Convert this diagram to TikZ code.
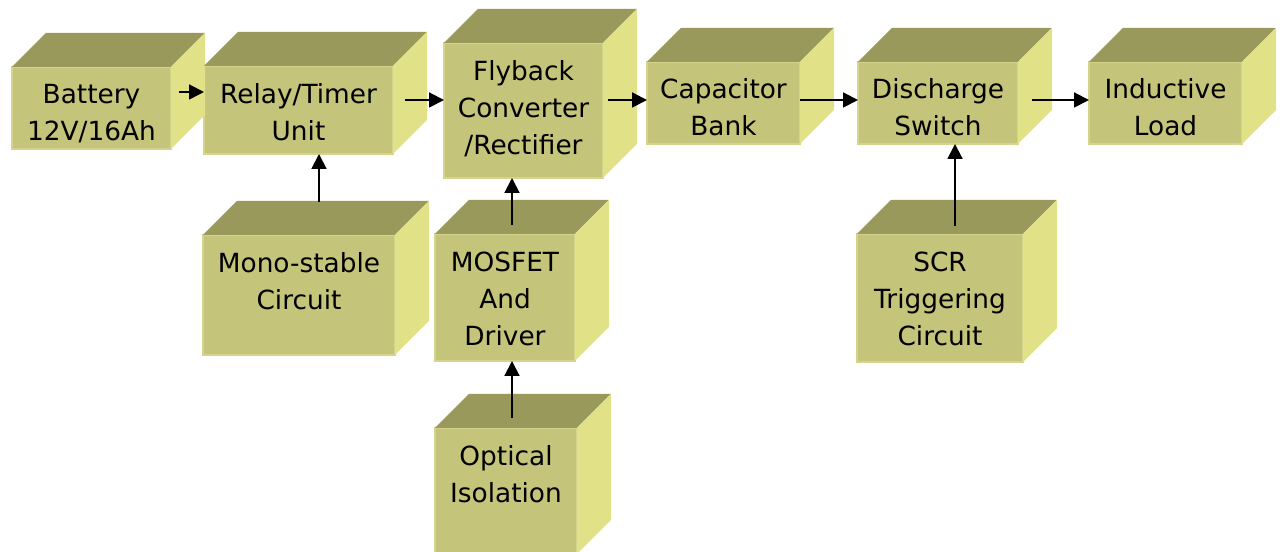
\documentclass[tikz,border=0pt]{standalone}
\usepackage{fontspec}
\setmainfont{DejaVu Sans}
\usetikzlibrary{positioning,arrows.meta}
\definecolor{CubeFront}{RGB}{196, 196, 122}
\definecolor{CubeTop}{RGB}{153, 153, 92}
\definecolor{CubeSide}{RGB}{225, 225, 136}
\definecolor{CubeEdge}{RGB}{212, 212, 140}

\begin{document}
\begin{tikzpicture}[
    block/.style={draw=CubeEdge, line width=0.6pt, fill=CubeFront, inner sep=0pt, outer sep=0pt},
    caption/.style={inner sep=0pt, align=center, font=\fontsize{15}{21}\selectfont},
    cubetop/.style={fill=CubeTop},
    cubeside/.style={fill=CubeSide},
    flow/.style={-{Triangle[length=8.5pt,width=8.5pt]}, line width=1.1pt, black}
  ]
    \useasboundingbox (0,0) rectangle (25.6,11.04);

    % Front faces, top row
    \node[block, minimum width=3.18cm, minimum height=1.64cm] (bat) at (1.83,8.88) {};
    \node[block, minimum width=3.78cm, minimum height=1.76cm] (rel) at (5.97,8.84) {};
    \node[block, minimum width=3.18cm, minimum height=2.70cm] (fly) at (10.47,8.83) {};
    \node[block, minimum width=3.06cm, minimum height=1.64cm] (cap) at (14.47,8.98) {};
    \node[block, minimum width=3.20cm, minimum height=1.64cm] (dis) at (18.76,8.98) {};
    \node[block, minimum width=3.06cm, minimum height=1.64cm] (ind) at (23.31,8.98) {};

    % Front faces, control blocks
    \node[block, minimum width=3.84cm, minimum height=2.40cm] (mono) at (5.98,5.14) {};
    \node[block, minimum width=2.80cm, minimum height=2.54cm] (mos) at (10.10,5.09) {};
    \node[block, minimum width=2.84cm, minimum height=2.52cm] (opt) at (10.12,1.22) {};
    \node[block, minimum width=3.32cm, minimum height=2.56cm] (scr) at (18.80,5.08) {};

    % Top and side faces of every cube
    \foreach \b in {bat,rel,fly,cap,dis,ind,mono,mos,opt,scr} {
      \fill[cubetop] (\b.north west) -- ++(0.68,0.68) -- ([shift={(0.68,0.68)}]\b.north east) -- (\b.north east) -- cycle;
      \fill[cubeside] (\b.north east) -- ++(0.68,0.68) -- ([shift={(0.68,0.68)}]\b.south east) -- (\b.south east) -- cycle;
    }

    % Labels
    \node[caption, below=0.34cm of bat.north] (batT) {Battery\\12V/16Ah};
    \node[caption, below=0.34cm of rel.north] (relT) {Relay/Timer\\Unit};
    \node[caption, below=0.34cm of fly.north] (flyT) {Flyback\\Converter\\/Rectifier};
    \node[caption, below=0.32cm of cap.north] (capT) {Capacitor\\Bank};
    \node[caption, below=0.32cm of dis.north] (disT) {Discharge\\Switch};
    \node[caption, below=0.32cm of ind.north] (indT) {Inductive\\Load};
    \node[caption, below=0.34cm of mono.north] (monoT) {Mono-stable\\Circuit};
    \node[caption, below=0.36cm of mos.north] (mosT) {MOSFET\\And\\Driver};
    \node[caption, below=0.34cm of opt.north] (optT) {Optical\\Isolation};
    \node[caption, below=0.36cm of scr.north] (scrT) {SCR\\Triggering\\Circuit};

    % Power path
    \coordinate (bus0) at (0,9.20);
    \coordinate (bus) at (0,9.04);
    \draw[flow] ([xshift=1.6mm]bat.east |- bus0) -- (rel.west |- bus0);
    \draw[flow] ([xshift=2.4mm]rel.east |- bus) -- (fly.west |- bus);
    \draw[flow] ([xshift=1.0mm]fly.east |- bus) -- (cap.west |- bus);
    \draw[flow] (cap.east |- bus) -- (dis.west |- bus);
    \draw[flow] ([xshift=2.8mm]dis.east |- bus) -- (ind.west |- bus);

    % Control inputs
    \coordinate (monoA) at ([shift={(0.40,0.66)}]mono.north);
    \coordinate (mosA) at ([shift={(0.14,0.18)}]mos.north);
    \coordinate (optA) at ([shift={(0.12,0.20)}]opt.north);
    \coordinate (scrA) at ([shift={(0.30,0.16)}]scr.north);
    \draw[flow] (monoA) -- (monoA |- rel.south);
    \draw[flow] (mosA) -- (mosA |- fly.south);
    \draw[flow] (optA) -- (optA |- mos.south);
    \draw[flow] (scrA) -- (scrA |- dis.south);
\end{tikzpicture}
\end{document}
